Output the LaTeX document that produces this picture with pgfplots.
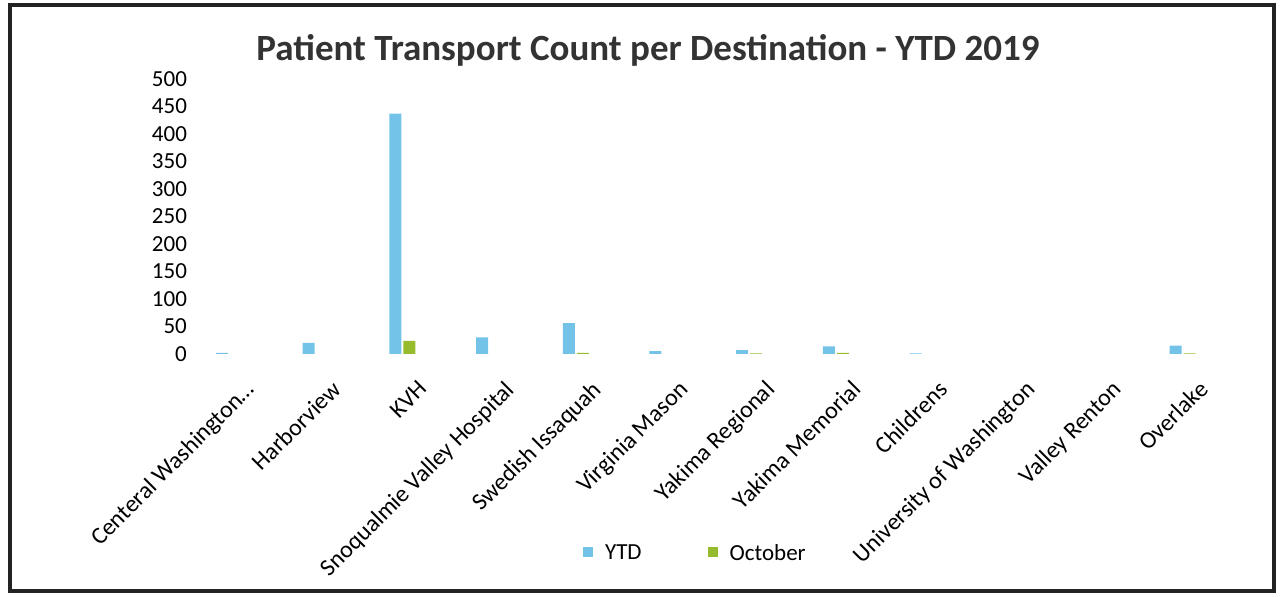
\documentclass[border=0pt]{standalone}
\usepackage{pgfplots}
\pgfplotsset{compat=1.18}
\usepackage{fontspec}
\setmainfont{Carlito}
\definecolor{ytd}{RGB}{115,195,232}
\definecolor{octc}{RGB}{150,188,45}
\definecolor{frame}{RGB}{35,35,35}
\begin{document}
\begin{tikzpicture}[x=1pt,y=1pt]
\path (0,0) rectangle (1280,597);
\draw[frame,line width=4pt] (10,6) rectangle (1274,592);
\node[font=\bfseries\fontsize{37}{44}\selectfont,text=black!80] at (648,547) {Patient Transport Count per Destination - YTD 2019};
\begin{axis}[
  at={(185.6pt,243pt)}, anchor=south west,
  scale only axis, width=1040.4pt, height=275pt,
  ybar=2pt, bar width=12pt,
  ymin=0, ymax=500, ytick={0,50,...,500},
  xmin=-0.5, xmax=11.5,
  xtick={0,...,11},
  xticklabels={Centeral Washington\dots,Harborview,KVH,Snoqualmie Valley Hospital,Swedish Issaquah,Virginia Mason,Yakima Regional,Yakima Memorial,Childrens,University of Washington,Valley Renton,Overlake},
  axis line style={draw=none},
  major tick length=0pt,
  /pgf/number format/assume math mode=true,
  yticklabel style={font=\fontsize{23}{27}\selectfont, inner sep=0pt, anchor=east, xshift=1.5pt},
  xticklabel style={font=\fontsize{24}{28}\selectfont, inner sep=0pt, xshift=15pt, yshift=-25pt, rotate=45, anchor=north east},
  legend style={draw=none, at={(0.49,-0.724)}, anchor=center, legend columns=2, font=\fontsize{23}{27}\selectfont,
    /tikz/every even column/.append style={column sep=64pt}},
  legend image code/.code={\fill[#1,draw=none] (0pt,-4pt) rectangle (10pt,6pt); \path (20pt,0pt);},
  restrict y to domain=0.1:1000,
]
\addplot[fill=ytd,draw=none] coordinates {(0,2) (1,20) (2,437) (3,30) (4,56) (5,5) (6,7) (7,14) (8,1) (9,0) (10,0) (11,15)};
\addplot[fill=octc,draw=none] coordinates {(0,0) (1,0) (2,24) (3,0) (4,2) (5,0) (6,1) (7,2) (8,0) (9,0) (10,0) (11,1)};
\legend{YTD,October}
\end{axis}
\end{tikzpicture}
\end{document}
